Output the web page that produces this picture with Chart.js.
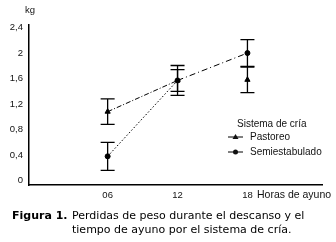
<!DOCTYPE html>
<html>
<head>
<meta charset="utf-8">
<script src="https://cdn.jsdelivr.net/npm/chart.js@4/dist/chart.umd.min.js"></script>
<style>
  body { margin: 0; background: #fff; }
  #wrap { position: relative; width: 336px; height: 242px; }
  #caption { position: absolute; left: 12px; top: 209px; font-family: "DejaVu Sans", Verdana, sans-serif; font-size: 11px; line-height: 14px; color: #000; }
  #caption b { display: inline-block; width: 60px; }
  #caption .rest { position: absolute; left: 60px; top: 0; width: 270px; }
</style>
</head>
<body>
<div id="wrap">
  <canvas id="lossChart" width="336" height="242"></canvas>
  <div id="caption"><b>Figura 1.</b><span class="rest">Perdidas de peso durante el descanso y el tiempo de ayuno por el sistema de cría.</span></div>
</div>
<script>
// horas de ayuno
const hours = [6, 12, 18];
const hourLabels = ['06', '12', '18'];
const yTicks = [0, 0.4, 0.8, 1.2, 1.6, 2, 2.4];

// perdidas de peso (kg) y error
const pastoreo = [1.08, 1.57, 1.58];
const pastoreoErr = [0.2, 0.235, 0.2];
const semiestabulado = [0.38, 1.57, 2.0];
const semiestabuladoErr = [0.22, 0.17, 0.21];

const seriesNames = ['Pastoreo', 'Semiestabulado'];
const legendTitle = 'Sistema de cría';

const tickFont = { family: 'Liberation Sans, Arial, sans-serif', size: 9.5 };

function toPoints(values, errs) {
  return hours.map((h, i) => ({ x: h, y: values[i], err: errs[i] }));
}

// error bars drawn on top of the lines
const errorBars = {
  id: 'errorBars',
  afterDatasetsDraw(chart) {
    const ctx = chart.ctx;
    const xs = chart.scales.x, ys = chart.scales.y;
    ctx.save();
    ctx.strokeStyle = '#000';
    ctx.lineWidth = 1.3;
    chart.data.datasets.forEach(ds => {
      ds.data.forEach(p => {
        const x = xs.getPixelForValue(p.x);
        const top = ys.getPixelForValue(p.y + p.err);
        const bot = ys.getPixelForValue(p.y - p.err);
        ctx.beginPath();
        ctx.moveTo(x, top); ctx.lineTo(x, bot);
        ctx.moveTo(x - 7, top); ctx.lineTo(x + 7, top);
        ctx.moveTo(x - 7, bot); ctx.lineTo(x + 7, bot);
        ctx.stroke();
      });
    });
    ctx.restore();
  }
};

// kg, axis title and the legend box
const extraText = {
  id: 'extraText',
  afterDraw(chart) {
    const ctx = chart.ctx;
    const area = chart.chartArea;
    ctx.save();
    ctx.fillStyle = '#111';
    ctx.font = '9.5px Liberation Sans, Arial, sans-serif';
    ctx.textBaseline = 'middle';
    ctx.textAlign = 'left';
    ctx.fillText('kg', area.left - 4, 10);
    ctx.font = '10.5px Liberation Sans, Arial, sans-serif';
    ctx.fillText('Horas de ayuno', 257, 195);

    ctx.font = '10px Liberation Sans, Arial, sans-serif';
    ctx.fillText(legendTitle, 237, 124);
    chart.data.datasets.forEach((ds, i) => {
      const y = 137 + i * 15;
      ctx.strokeStyle = '#000';
      ctx.lineWidth = 1;
      ctx.beginPath();
      ctx.moveTo(228, y); ctx.lineTo(243, y);
      ctx.stroke();
      ctx.beginPath();
      if (ds.pointStyle === 'triangle') {
        ctx.moveTo(235.5, y - 3); ctx.lineTo(238.5, y + 2); ctx.lineTo(232.5, y + 2);
      } else {
        ctx.arc(235.5, y, 2.5, 0, Math.PI * 2);
      }
      ctx.fill();
      ctx.fillText(seriesNames[i], 250, y);
    });
    ctx.restore();
  }
};

const ctx = document.getElementById('lossChart');

new Chart(ctx, {
  type: 'line',
  data: {
    datasets: [{
      label: seriesNames[0],
      data: toPoints(pastoreo, pastoreoErr),
      borderColor: '#000',
      borderWidth: 1,
      borderDash: [5, 2, 1, 2],
      pointStyle: 'triangle',
      pointRadius: 3,
      backgroundColor: '#000',
      pointBorderColor: '#000',
      tension: 0,
      // no line drawn from 12 to 18 h
      segment: {
        borderColor: c => c.p0DataIndex === 1 ? 'rgba(0,0,0,0)' : '#000'
      }
    }, {
      label: seriesNames[1],
      data: toPoints(semiestabulado, semiestabuladoErr),
      borderColor: '#000',
      borderWidth: 1,
      pointStyle: 'circle',
      pointRadius: 2.5,
      backgroundColor: '#000',
      pointBorderColor: '#000',
      tension: 0,
      segment: {
        borderDash: c => c.p0DataIndex === 0 ? [1.5, 2] : [6, 3, 1, 3]
      }
    }]
  },
  options: {
    responsive: false,
    animation: false,
    layout: { padding: { left: 0, top: 25, right: 14, bottom: 37 } },
    plugins: {
      legend: { display: false },
      tooltip: { enabled: false }
    },
    scales: {
      x: {
        type: 'linear',
        min: -0.75,
        max: 24.4,
        afterBuildTicks: s => { s.ticks = hours.map(v => ({ value: v })); },
        afterFit: s => { s.height = 20; },
        grid: { display: false, drawTicks: false },
        border: { display: true, color: '#000', width: 1.5 },
        ticks: {
          padding: 5,
          color: '#111',
          font: tickFont,
          callback: (v) => hourLabels[hours.indexOf(v)]
        }
      },
      y: {
        min: -0.07,
        max: 2.44,
        afterBuildTicks: s => { s.ticks = yTicks.map(v => ({ value: v })); },
        afterFit: s => { s.width = 29; },
        grid: { display: false, drawTicks: false },
        border: { display: true, color: '#000', width: 1.5 },
        ticks: {
          padding: 6,
          color: '#111',
          font: tickFont,
          callback: (v) => String(v).replace('.', ',')
        }
      }
    }
  },
  plugins: [errorBars, extraText]
});
</script>
</body>
</html>
